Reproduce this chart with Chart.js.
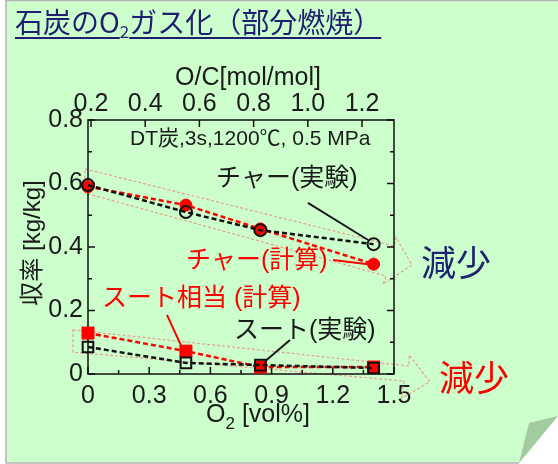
<!DOCTYPE html>
<html>
<head>
<meta charset="utf-8">
<script src="https://cdn.jsdelivr.net/npm/chart.js@4.4.1/dist/chart.umd.min.js"></script>
<style>
  html, body { margin: 0; padding: 0; background: #fff; }
  #wrap { position: relative; width: 558px; height: 464px; }
  #chart { position: absolute; left: 0; top: 0; }
  #title {
    position: absolute; left: 15px; top: 1px;
    font: 28px "Noto Sans CJK JP", sans-serif; color: #1f1f72;
    text-decoration: underline; text-decoration-thickness: 2px; text-underline-offset: 4px;
    white-space: nowrap;
  }
  #title sub { font-size: 17px; vertical-align: -5px; line-height: 0; }
</style>
</head>
<body>
<div id="wrap">
  <canvas id="chart" width="558" height="464"></canvas>
  <div id="title">石炭のO<sub>2</sub>ガス化（部分燃焼）</div>
</div>
<script>
// O2 concentration [vol%] of each run
const o2Pct = [0, 0.48, 0.845, 1.4];
// yields [kg/kg]
const charExp = [0.595, 0.51, 0.453, 0.409];
const charCalc = [0.59, 0.532, 0.457, 0.346];
const sootExp = [0.085, 0.035, 0.028, 0.019];
const sootCalc = [0.129, 0.072, 0.022, 0.022];

// axis ticks
const xTicks = [0, 0.3, 0.6, 0.9, 1.2, 1.5];
const yTicks = [0, 0.2, 0.4, 0.6, 0.8];
const ocTicks = [0.2, 0.4, 0.6, 0.8, 1.0, 1.2];

const LAT = '"Liberation Sans", "Noto Sans CJK JP", sans-serif';
const INK = '#1a1a1a';
const RED = '#ff0000';

function pts(ys) {
    return o2Pct.map((x, i) => ({ x: x, y: ys[i] }));
}

// hollow pink arrows (decoration), given in data units of the O2 / yield axes
const bigArrows = [
    [[-0.015, 0.646], [1.50, 0.403], [1.51, 0.431], [1.588, 0.343], [1.446, 0.283], [1.461, 0.309], [-0.015, 0.570]],
    [[-0.074, 0.139], [1.574, 0.025], [1.574, 0.060], [1.676, -0.025], [1.539, -0.076], [1.549, -0.022], [-0.074, 0.069]]
];

// leader lines from labels to points
const leaders = [
    { from: [1.078, 0.539], to: [1.373, 0.422], color: INK },
    { from: [1.201, 0.359], to: [1.373, 0.346], color: RED },
    { from: [0.387, 0.186], to: [0.466, 0.076], color: RED },
    { from: [0.990, 0.107], to: [0.868, 0.040], color: INK }
];

function txt(ctx, s, x, y, size, color, align, weight) {
    ctx.font = (weight || 'normal') + ' ' + size + 'px ' + LAT;
    ctx.fillStyle = color;
    ctx.textAlign = align || 'left';
    ctx.textBaseline = 'middle';
    ctx.fillText(s, x, y);
}

const decor = {
    id: 'decor',
    beforeDraw(chart) {
        const ctx = chart.ctx;
        ctx.save();
        ctx.fillStyle = '#fff';
        ctx.fillRect(0, 0, 558, 464);
        // page
        ctx.beginPath();
        ctx.moveTo(6, 0.5); ctx.lineTo(558, 0.5); ctx.lineTo(558, 416);
        ctx.lineTo(519, 463); ctx.lineTo(6, 463); ctx.closePath();
        ctx.fillStyle = '#ccffcc';
        ctx.fill();
        ctx.strokeStyle = '#b4b4b4';
        ctx.lineWidth = 1.5;
        ctx.beginPath();
        ctx.moveTo(558, 0.5); ctx.lineTo(6, 0.5); ctx.lineTo(6, 463); ctx.lineTo(519, 463);
        ctx.stroke();
        // page curl
        ctx.beginPath();
        ctx.moveTo(529, 423); ctx.lineTo(558, 416); ctx.lineTo(519, 463); ctx.closePath();
        ctx.fillStyle = '#a2cba2';
        ctx.fill();
        ctx.restore();
    },
    beforeDatasetsDraw(chart) {
        const ctx = chart.ctx;
        const sx = chart.scales.x, sy = chart.scales.y, area = chart.chartArea;
        ctx.save();
        // pink arrows
        ctx.strokeStyle = 'rgba(240,130,130,0.75)';
        ctx.lineWidth = 1.2;
        ctx.setLineDash([3, 2]);
        bigArrows.forEach(poly => {
            ctx.beginPath();
            poly.forEach((p, i) => {
                const px = sx.getPixelForValue(p[0]), py = sy.getPixelForValue(p[1]);
                if (i === 0) ctx.moveTo(px, py); else ctx.lineTo(px, py);
            });
            ctx.closePath();
            ctx.stroke();
        });
        ctx.setLineDash([]);
        // frame
        ctx.strokeStyle = '#111';
        ctx.lineWidth = 1.5;
        ctx.strokeRect(area.left, area.top, area.right - area.left, area.bottom - area.top);
        // inward ticks
        ctx.beginPath();
        for (let v = 0; v <= 0.8001; v += 0.1) {
            const py = sy.getPixelForValue(v);
            const len = Math.round(v * 10) % 2 === 0 ? 7 : 4;
            ctx.moveTo(area.left, py); ctx.lineTo(area.left + len, py);
            ctx.moveTo(area.right, py); ctx.lineTo(area.right - len, py);
        }
        for (let v = 0; v <= 1.5001; v += 0.15) {
            const px = sx.getPixelForValue(v);
            const len = Math.round(v / 0.15) % 2 === 0 ? 7 : 4;
            ctx.moveTo(px, area.bottom); ctx.lineTo(px, area.bottom - len);
        }
        ocTicks.forEach(v => {
            const px = chart.scales.x2.getPixelForValue(v);
            ctx.moveTo(px, area.top); ctx.lineTo(px, area.top + 7);
        });
        ctx.stroke();
        ctx.restore();
    },
    afterDraw(chart) {
        const ctx = chart.ctx;
        const sx = chart.scales.x, sy = chart.scales.y;
        ctx.save();
        // leader lines
        ctx.lineWidth = 2;
        leaders.forEach(l => {
            ctx.strokeStyle = l.color;
            ctx.beginPath();
            ctx.moveTo(sx.getPixelForValue(l.from[0]), sy.getPixelForValue(l.from[1]));
            ctx.lineTo(sx.getPixelForValue(l.to[0]), sy.getPixelForValue(l.to[1]));
            ctx.stroke();
        });

        // axis titles
        txt(ctx, 'O/C[mol/mol]', 248, 78, 25, INK, 'center');
        // O2 [vol%] with a real subscript
        ctx.font = '25px ' + LAT;
        const wO = ctx.measureText('O').width;
        const wRest = ctx.measureText(' [vol%]').width;
        ctx.font = '17px ' + LAT;
        const w2 = ctx.measureText('2').width;
        let x0 = 258 - (wO + w2 + wRest) / 2;
        txt(ctx, 'O', x0, 415, 25, INK, 'left');
        txt(ctx, '2', x0 + wO, 424, 17, INK, 'left');
        txt(ctx, ' [vol%]', x0 + wO + w2, 415, 25, INK, 'left');

        ctx.save();
        ctx.translate(33, 243);
        ctx.rotate(-Math.PI / 2);
        txt(ctx, '収率 [kg/kg]', 0, 0, 24, INK, 'center');
        ctx.restore();

        // annotations
        txt(ctx, 'DT炭,3s,1200℃, 0.5 MPa', 130, 139, 21, INK, 'left');
        txt(ctx, 'チャー(実験)', 216, 179, 25, INK, 'left');
        txt(ctx, 'チャー(計算)', 186, 261, 25, RED, 'left');
        txt(ctx, 'スート相当 (計算)', 102, 299, 25, RED, 'left');
        txt(ctx, 'スート(実験)', 234, 331, 25, INK, 'left');
        txt(ctx, '減少', 421, 266, 35, '#1f2470', 'left');
        txt(ctx, '減少', 439, 381, 35, RED, 'left');
        ctx.restore();
    }
};

const tickFont = { family: LAT, size: 25 };
function fmt(v) { return v === 0 ? '0' : Number(v).toFixed(1); }

new Chart(document.getElementById('chart'), {
    type: 'scatter',
    data: {
        datasets: [
            { label: 'チャー(実験)', data: pts(charExp), showLine: true, clip: false,
              borderColor: '#111', borderWidth: 2.5, borderDash: [5, 3],
              pointStyle: 'circle', pointRadius: 6, pointBorderWidth: 2,
              pointBorderColor: '#111', pointBackgroundColor: 'rgba(0,0,0,0)' },
            { label: 'スート(実験)', data: pts(sootExp), showLine: true, clip: false,
              borderColor: '#111', borderWidth: 2.5, borderDash: [5, 3],
              pointStyle: 'rect', pointRadius: 7.5, pointBorderWidth: 2,
              pointBorderColor: '#111', pointBackgroundColor: 'rgba(0,0,0,0)' },
            { label: 'チャー(計算)', data: pts(charCalc), showLine: true, clip: false,
              borderColor: RED, borderWidth: 2.5, borderDash: [5, 3],
              pointStyle: 'circle', pointRadius: 6, pointBorderWidth: 1,
              pointBorderColor: RED, pointBackgroundColor: RED },
            { label: 'スート相当(計算)', data: pts(sootCalc), showLine: true, clip: false,
              borderColor: RED, borderWidth: 2.5, borderDash: [5, 3],
              pointStyle: 'rect', pointRadius: 8.5, pointBorderWidth: 1,
              pointBorderColor: RED, pointBackgroundColor: RED }
        ]
    },
    options: {
        responsive: false,
        animation: false,
        layout: { padding: { left: 0, right: 164, top: 0, bottom: 0 } },
        plugins: { legend: { display: false }, tooltip: { enabled: false } },
        scales: {
            x: {
                type: 'linear', position: 'bottom', min: 0, max: 1.5,
                afterBuildTicks: s => { s.ticks = xTicks.map(v => ({ value: v })); },
                afterFit: s => { s.height = 90; },
                grid: { display: false, drawTicks: false },
                border: { display: false },
                ticks: { padding: 7, color: INK, font: tickFont, callback: fmt, maxRotation: 0, autoSkip: false }
            },
            x2: {
                type: 'linear', position: 'top', min: 0.189, max: 1.318,
                afterBuildTicks: s => { s.ticks = ocTicks.map(v => ({ value: v })); },
                afterFit: s => { s.height = 120; },
                grid: { display: false, drawTicks: false },
                border: { display: false },
                ticks: { padding: 1, color: INK, font: tickFont, callback: fmt, maxRotation: 0, autoSkip: false }
            },
            y: {
                type: 'linear', position: 'left', min: 0, max: 0.8,
                afterBuildTicks: s => { s.ticks = yTicks.map(v => ({ value: v })); },
                afterFit: s => { s.width = 88; },
                grid: { display: false, drawTicks: false },
                border: { display: false },
                ticks: { padding: 5, color: INK, font: tickFont, callback: fmt, autoSkip: false }
            }
        }
    },
    plugins: [decor]
});
</script>
</body>
</html>
